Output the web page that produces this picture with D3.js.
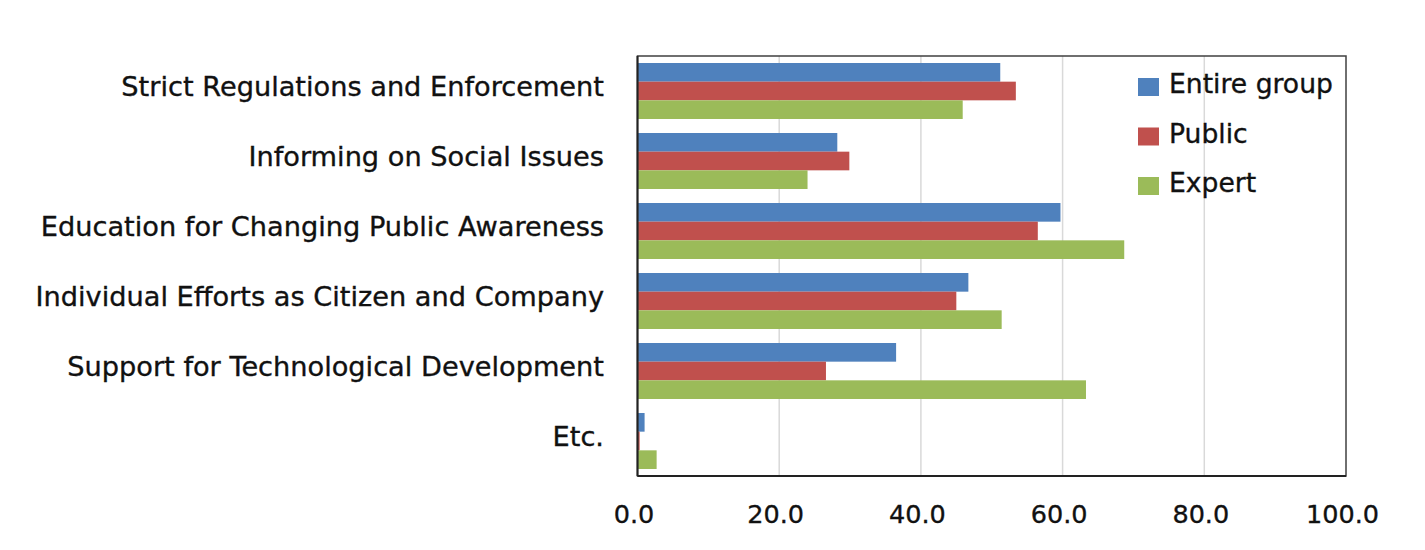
<!DOCTYPE html>
<html>
<head>
<meta charset="utf-8">
<script src="https://cdn.jsdelivr.net/npm/d3@7"></script>
<style>
  html, body { margin: 0; padding: 0; background: #fff; }
  svg { display: block; }
  text { font-family: "DejaVu Sans", sans-serif; fill: #111; stroke: #111; stroke-width: 0.35px; }
</style>
</head>
<body>
<svg id="chart" width="1425" height="550"></svg>
<script>
const categories = [
  "Strict Regulations and Enforcement",
  "Informing on Social Issues",
  "Education for Changing Public Awareness",
  "Individual Efforts as Citizen and Company",
  "Support for Technological Development",
  "Etc."
];
const seriesNames = ["Entire group", "Public", "Expert"];
const entireGroup = [51.2, 28.2, 59.7, 46.7, 36.5, 1.0];
const publicVals  = [53.4, 29.9, 56.5, 45.0, 26.6, 0.3];
const expertVals  = [45.9, 24.0, 68.7, 51.4, 63.3, 2.7];
const seriesColors = ["#4f81bd", "#c0504d", "#9bbb59"];
const xTicks = [0, 20, 40, 60, 80, 100];

const allSeries = [entireGroup, publicVals, expertVals];

const svg = d3.select("#chart");
const plot = { left: 637.5, right: 1346, top: 56, bottom: 476 };

const x = d3.scaleLinear().domain([0, 100]).range([plot.left, plot.right]);
const y = d3.scaleBand().domain(categories).range([plot.top, plot.bottom])
  .paddingInner(0.2).paddingOuter(0.1);
const ySub = d3.scaleBand().domain(seriesNames).range([0, y.bandwidth()]);

// gridlines
svg.append("g").selectAll("line")
  .data(xTicks.filter(t => t > 0 && t < 100))
  .join("line")
  .attr("x1", d => x(d)).attr("x2", d => x(d))
  .attr("y1", plot.top).attr("y2", plot.bottom)
  .attr("stroke", "#d9d9d9").attr("stroke-width", 1.5);

// bars
const groups = svg.append("g").selectAll("g")
  .data(categories)
  .join("g")
  .attr("transform", d => `translate(0,${y(d)})`);

groups.selectAll("rect")
  .data((c, i) => seriesNames.map((s, j) => ({ s, v: allSeries[j][i], color: seriesColors[j] })))
  .join("rect")
  .attr("x", x(0))
  .attr("y", d => ySub(d.s))
  .attr("width", d => x(d.v) - x(0))
  .attr("height", ySub.bandwidth())
  .attr("fill", d => d.color);

// plot border
svg.append("rect")
  .attr("x", plot.left).attr("y", plot.top)
  .attr("width", plot.right - plot.left).attr("height", plot.bottom - plot.top)
  .attr("fill", "none").attr("stroke", "#404040").attr("stroke-width", 1.5);
svg.append("line")
  .attr("x1", plot.left).attr("x2", plot.left)
  .attr("y1", plot.top).attr("y2", plot.bottom)
  .attr("stroke", "#222").attr("stroke-width", 2);
svg.append("line")
  .attr("x1", plot.left).attr("x2", plot.right)
  .attr("y1", plot.bottom).attr("y2", plot.bottom)
  .attr("stroke", "#222").attr("stroke-width", 2);

// x axis labels
const xAxis = d3.axisBottom(x).tickValues(xTicks).tickFormat(d3.format(".1f")).tickSize(0).tickPadding(0);
const xg = svg.append("g").attr("transform", `translate(0,${plot.bottom})`).call(xAxis);
xg.select(".domain").remove();
xg.selectAll("text")
  .attr("y", 47).attr("dy", null).attr("dx", -4)
  .style("font-family", "'DejaVu Sans', sans-serif")
  .style("font-size", "25.5px").attr("fill", "#111");

// category labels
svg.append("g").selectAll("text")
  .data(categories)
  .join("text")
  .attr("x", 604)
  .attr("y", d => y(d) + y.bandwidth() / 2 + 5)
  .attr("text-anchor", "end")
  .style("font-size", "27.2px")
  .text(d => d);

// legend
const legend = svg.append("g").selectAll("g")
  .data(seriesNames)
  .join("g")
  .attr("transform", (d, i) => `translate(1138,${78 + i * 49.5})`);
legend.append("rect")
  .attr("width", 21).attr("height", 18)
  .attr("fill", (d, i) => seriesColors[i]);
legend.append("text")
  .attr("x", 31).attr("y", 15)
  .style("font-size", "26.6px")
  .text(d => d);
</script>
</body>
</html>
